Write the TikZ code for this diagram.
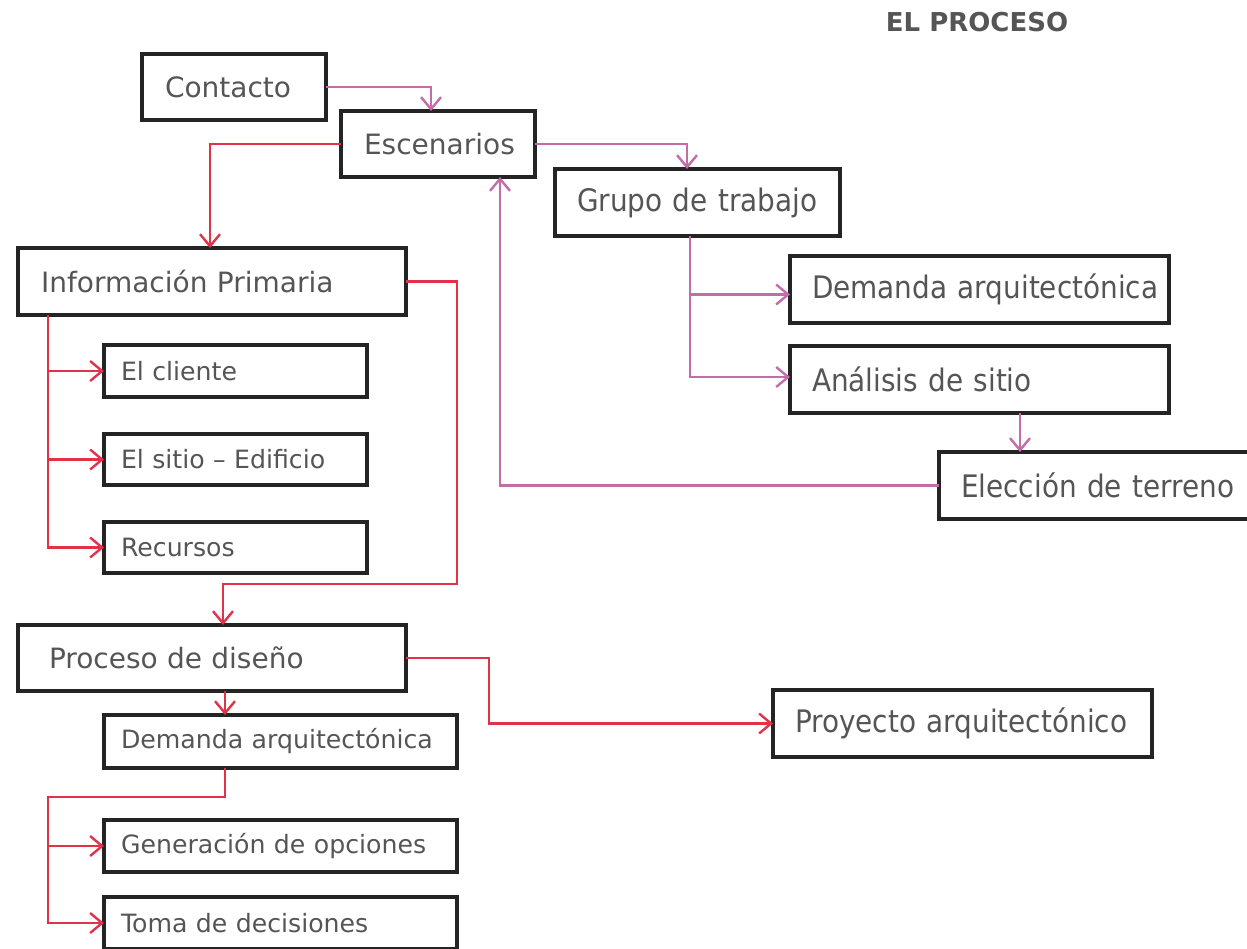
\documentclass[tikz,border=0pt]{standalone}
\usepackage{fontspec}
\setmainfont{DejaVu Sans}
\newfontfamily\condfont[FakeStretch=0.9]{DejaVu Sans}
\usetikzlibrary{arrows.meta}
\definecolor{txt}{HTML}{555555}
\definecolor{boxline}{HTML}{242424}
\definecolor{mauve}{HTML}{C46CAA}
\definecolor{rojo}{HTML}{E2324A}
\begin{document}
\begin{tikzpicture}[
        x=0.5pt, y=-0.5pt,
        box/.style={draw=boxline, line width=1.6pt, text=txt, anchor=north west, align=left, inner ysep=0pt, outer sep=0pt,
            execute at begin node=\hbox\bgroup, execute at end node=\egroup},
        bigbox/.style={box, font=\fontsize{14}{16}\selectfont, inner xsep=11.5pt},
        smallbox/.style={box, font=\fontsize{12.6}{15}\selectfont, inner xsep=8.5pt},
        narrowbox/.style={box, font=\condfont\fontsize{15.5}{18}\selectfont, inner xsep=11pt},
        pinkarrow/.style={draw=mauve, line width=1.2pt, -{Straight Barb[length=6pt,width=10pt]}},
        redarrow/.style={draw=rojo, line width=1.2pt, -{Straight Barb[length=6pt,width=10pt]}},
        title/.style={text=txt, font=\bfseries\fontsize{13}{15}\selectfont}
    ]
        \useasboundingbox (0,0) rectangle (1247,948);
        \node[title] (titulo) at (977,22) {EL PROCESO};

        % === Inicio ===
        \node[bigbox, text width=69pt, minimum height=33pt] (contacto) at (142,54) {Contacto};
        \node[bigbox, text width=74pt, minimum height=33pt] (escen) at (341,111) {Escenarios};
        \draw[pinkarrow] (contacto.east) -| ([xshift=-3.5pt]escen.north);

        % === Grupo de trabajo ===
        \node[narrowbox, text width=120.5pt, minimum height=33.5pt] (grupo) at (555,169) {Grupo de trabajo};
        \node[narrowbox, text width=167.5pt, minimum height=33.5pt] (demR) at (790,256) {Demanda arquitectónica};
        \node[narrowbox, text width=167.5pt, minimum height=33.5pt] (analisis) at (790,346) {Análisis de sitio};
        \node[narrowbox, text width=134pt, minimum height=33.5pt] (eleccion) at (939,452) {Elección de terreno};
        \draw[pinkarrow] (escen.east) -| ([xshift=-5.25pt]grupo.north);
        \draw[pinkarrow] ([xshift=-3.75pt]grupo.south) |- ([yshift=-2.5pt]demR.west);
        \draw[pinkarrow] ([xshift=-3.75pt]grupo.south) |- ([yshift=1.25pt]analisis.west);
        \draw[pinkarrow] ([xshift=20.25pt]analisis.south) -- ([xshift=20.25pt]analisis.south |- eleccion.north);
        \draw[pinkarrow] (eleccion.west) -| ([xshift=31pt]escen.south);

        % === Información Primaria ===
        \node[bigbox, text width=171pt, minimum height=33.5pt] (info) at (18,248) {Información Primaria};
        \node[smallbox, text width=114.5pt, minimum height=26pt] (cliente) at (104,345) {El cliente};
        \node[smallbox, text width=114.5pt, minimum height=25.5pt] (sitio) at (104,434) {El sitio – Edificio};
        \node[smallbox, text width=114.5pt, minimum height=25.5pt] (recursos) at (104,522) {Recursos};
        \draw[redarrow] (escen.west) -| ([xshift=-1pt]info.north);
        \draw[redarrow] ([xshift=15pt]info.south west) |- (cliente.west);
        \draw[redarrow] ([xshift=15pt]info.south west) |- (sitio.west);
        \draw[redarrow] ([xshift=15pt]info.south west) |- (recursos.west);

        % === Proceso de diseño ===
        \node[bigbox, text width=163pt, minimum height=33pt, inner xsep=15.5pt] (proceso) at (18,625) {Proceso de diseño};
        \node[smallbox, text width=159.5pt, minimum height=26.5pt] (demL) at (104,715) {Demanda arquitectónica};
        \node[smallbox, text width=159.5pt, minimum height=26pt] (gener) at (104,820) {Generación de opciones};
        \node[smallbox, text width=159.5pt, minimum height=26pt] (toma) at (104,897) {Toma de decisiones};
        \node[narrowbox, text width=167.5pt, minimum height=33.5pt] (proyecto) at (773,690) {Proyecto arquitectónico};
        \draw[redarrow] (info.east) -- ++(25.5pt,0) |- ([xshift=5.5pt,yshift=20.5pt]proceso.north) -- ([xshift=5.5pt]proceso.north);
        \draw[redarrow] ([xshift=6.5pt]proceso.south) -- ([xshift=6.5pt]proceso.south |- demL.north);
        \draw[redarrow] (proceso.east) -- ++(41.5pt,0) |- (proyecto.west);
        \draw[redarrow] ([xshift=-27.75pt]demL.south) -- ++(0,-14.5pt) -| ([xshift=-28pt]toma.west) -- (toma.west);
        \draw[redarrow] ([xshift=-28pt]gener.west) -- (gener.west);
    \end{tikzpicture}
\end{document}
